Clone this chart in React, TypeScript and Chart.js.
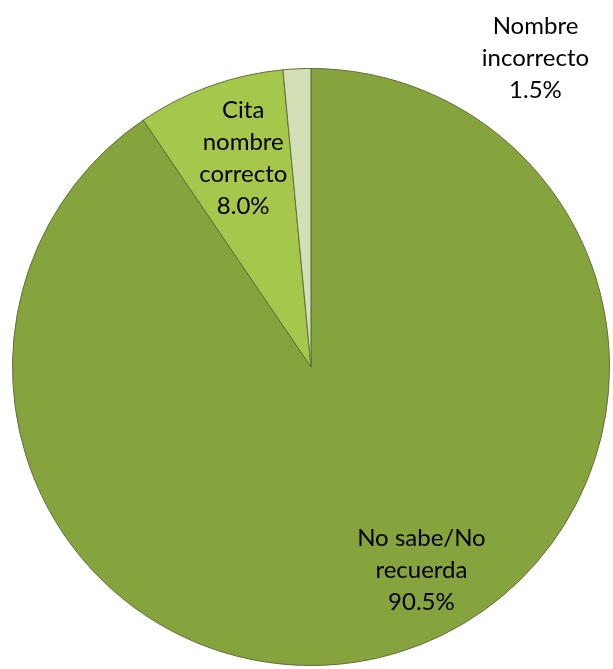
import React, { useEffect, useRef } from "react";
import { Chart, registerables } from "chart.js";

Chart.register(...registerables);

const categories = ["No sabe/No recuerda", "Cita nombre correcto", "Nombre incorrecto"];
const values = [90.5, 8.0, 1.5];
const labelLines = [["No sabe/No", "recuerda"], ["Cita", "nombre", "correcto"], ["Nombre", "incorrecto"]];
const colors = ["#87a33d", "#a7c74c", "#d3dfb6"];
// label anchor offsets from the pie centre, as fractions of the radius
const labelOffsets = [[0.37, 0.68], [-0.227, -0.7], [0.752, -1.033]];

const labelPlugin = {
  id: "sliceLabels",
  afterDatasetsDraw(chart: any) {
    const ctx = chart.ctx;
    const meta = chart.getDatasetMeta(0);
    const total = values.reduce((a, b) => a + b, 0);
    ctx.save();
    ctx.font = "24px Lato";
    ctx.fillStyle = "#000";
    ctx.textAlign = "center";
    ctx.textBaseline = "middle";
    const lh = 32;
    meta.data.forEach((arc: any, i: number) => {
      const { x, y, outerRadius } = arc.getProps(["x", "y", "outerRadius"], true);
      const cx = x + labelOffsets[i][0] * outerRadius;
      const cy = y + labelOffsets[i][1] * outerRadius;
      const lines = [...labelLines[i], ((values[i] / total) * 100).toFixed(1) + "%"];
      const startY = cy - ((lines.length - 1) * lh) / 2;
      lines.forEach((t, k) => ctx.fillText(t, cx, startY + k * lh));
    });
    ctx.restore();
  },
};

export default function App() {
  const ref = useRef<HTMLCanvasElement | null>(null);
  useEffect(() => {
    document.body.style.margin = "0";
    const chart = new Chart(ref.current!, {
      type: "pie",
      data: {
        labels: categories,
        datasets: [
          {
            data: values,
            backgroundColor: colors,
            borderColor: "#5f7038",
            borderWidth: 1,
          },
        ],
      },
      options: {
        responsive: false,
        animation: false,
        layout: { padding: { left: 12, right: 3, top: 68, bottom: 3 } },
        plugins: { legend: { display: false }, tooltip: { enabled: false } },
      },
      plugins: [labelPlugin],
    });
    return () => chart.destroy();
  }, []);
  return (
    <div style={{ width: 613, height: 669 }}>
      <canvas ref={ref} width={613} height={669} style={{ width: 613, height: 669 }} />
    </div>
  );
}
